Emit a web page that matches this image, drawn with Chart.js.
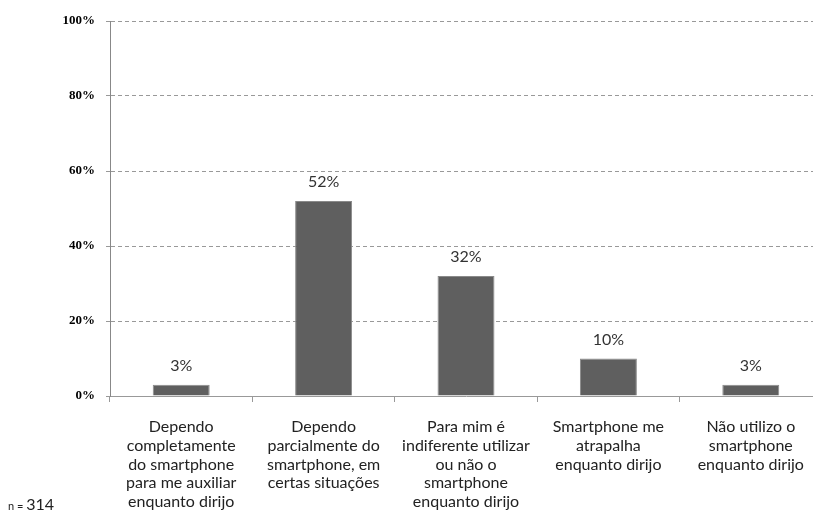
<!DOCTYPE html>
<html>
<head>
<meta charset="utf-8">
<script src="https://cdn.jsdelivr.net/npm/chart.js@4"></script>
<style>
  html, body { margin: 0; padding: 0; background: #fff; overflow: hidden; }
  #wrap { position: relative; width: 830px; height: 523px; }
  #note { position: absolute; left: 8px; top: 494px; font-family: Lato, 'Liberation Sans', sans-serif; color: #222; }
  #note .s { font-size: 11px; }
  #note .b { font-size: 16px; }
</style>
</head>
<body>
<div id="wrap">
  <canvas id="chart"></canvas>
  <div id="note"><span class="s">n = </span><span class="b">314</span></div>
</div>
<script>
const categories = [
  ['Dependo', 'completamente', 'do smartphone', 'para me auxiliar', 'enquanto dirijo'],
  ['Dependo', 'parcialmente do', 'smartphone, em', 'certas situações'],
  ['Para mim é', 'indiferente utilizar', 'ou não o', 'smartphone', 'enquanto dirijo'],
  ['Smartphone me', 'atrapalha', 'enquanto dirijo'],
  ['Não utilizo o', 'smartphone', 'enquanto dirijo']
]
const values = [3, 52, 32, 10, 3]
const yTicks = [0, 20, 40, 60, 80, 100]

const valueLabels = {
  id: 'valueLabels',
  afterDatasetsDraw(chart) {
    const ctx = chart.ctx
    const meta = chart.getDatasetMeta(0)
    ctx.save()
    ctx.font = '16px Lato, "Liberation Sans", sans-serif'
    ctx.fillStyle = '#333'
    ctx.textAlign = 'center'
    ctx.textBaseline = 'middle'
    meta.data.forEach((bar, i) => {
      ctx.fillText(values[i] + '%', bar.x, bar.y - 19)
    })
    ctx.restore()
  }
}

const canvas = document.getElementById('chart')
canvas.width = 830
canvas.height = 523

new Chart(canvas, {
  type: 'bar',
  data: {
    labels: categories,
    datasets: [{
      data: values,
      backgroundColor: '#5f5f5f',
      borderColor: '#8a8a8a',
      borderWidth: 1,
      categoryPercentage: 1,
      barPercentage: 0.4
    }]
  },
  options: {
    responsive: false,
    animation: false,
    devicePixelRatio: 1,
    layout: { padding: { top: 21, right: 8, left: 0, bottom: 0 } },
    plugins: { legend: { display: false }, tooltip: { enabled: false } },
    scales: {
      x: {
        afterFit: s => { s.height = 127 },
        grid: { drawOnChartArea: false, drawTicks: true, tickLength: 6, color: '#999', offset: true },
        border: { color: '#999', width: 1 },
        ticks: {
          color: '#222',
          padding: 16,
          maxRotation: 0,
          autoSkip: false,
          font: { family: 'Lato, "Liberation Sans", sans-serif', size: 16, lineHeight: 1.16 }
        }
      },
      y: {
        min: 0,
        max: 100,
        afterFit: s => { s.width = 110 },
        afterBuildTicks: s => { s.ticks = yTicks.map(v => ({ value: v })) },
        grid: { color: '#999', tickLength: 4, tickBorderDash: [4, 3] },
        border: { color: '#888', width: 1, dash: [4, 3] },
        ticks: {
          color: '#000',
          padding: 11,
          callback: v => v + '%',
          font: { family: '"Liberation Serif", "DejaVu Serif", serif', size: 13, weight: 'bold' }
        }
      }
    }
  },
  plugins: [valueLabels]
})
</script>
</body>
</html>
